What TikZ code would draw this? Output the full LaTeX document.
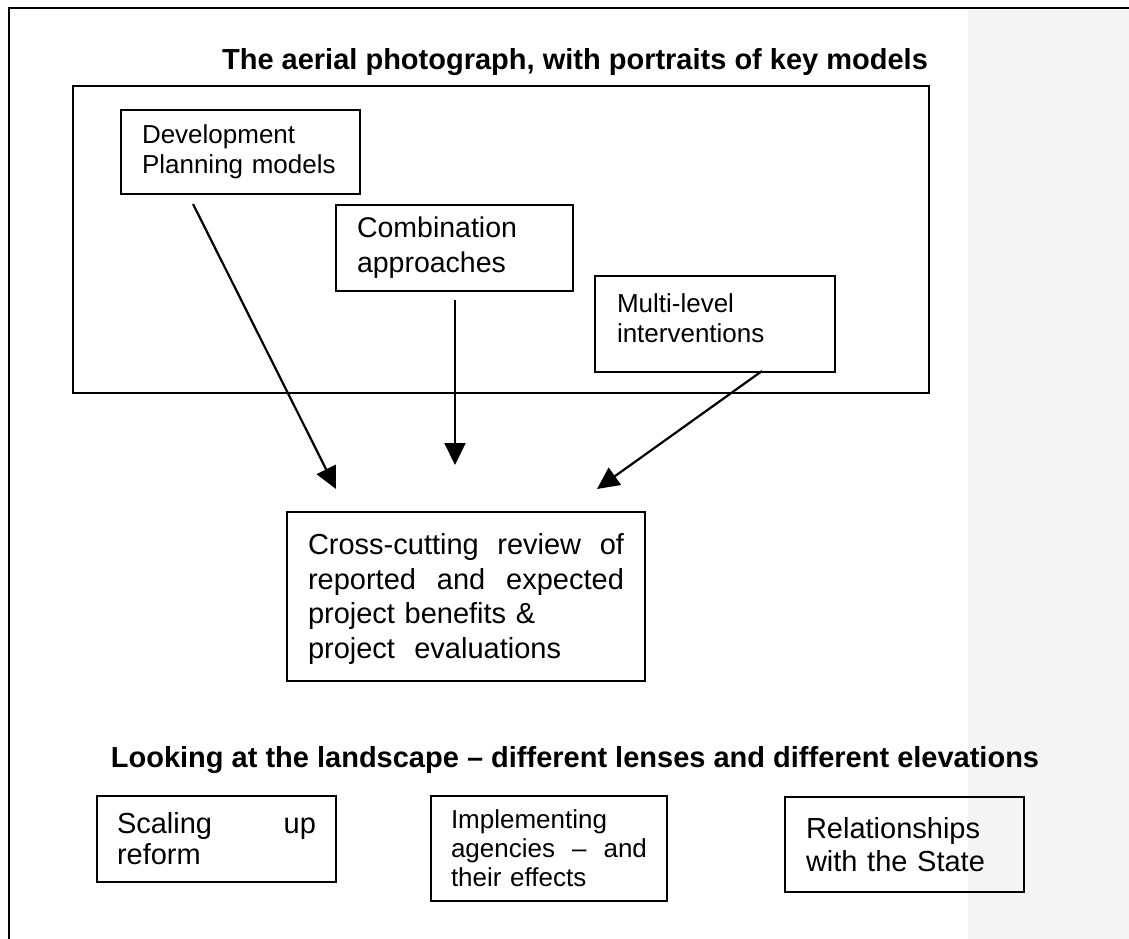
\documentclass[tikz,border=0pt]{standalone}
\usepackage{fontspec}
\setmainfont{Liberation Sans}
\usetikzlibrary{arrows.meta}
\definecolor{scangray}{gray}{0.955}
\newcommand{\spreadline}[2]{\leavevmode\hbox to #1{#2}}
\tikzset{
  boxline/.style={draw=black, line width=2pt},
  textbox/.style={boxline, rectangle, align=left, inner ysep=0pt},
  title/.style={font=\bfseries\fontsize{29}{34}\selectfont, anchor=base, inner sep=0pt},
  conn/.style={line width=2.2pt, -{Triangle[length=22pt,width=21pt]}},
}
\begin{document}
\begin{tikzpicture}[x=1pt,y=-1pt]
\useasboundingbox (0,0) rectangle (1129,939);
\fill[white] (0,0) rectangle (1129,939);
\fill[scangray] (968,10) rectangle (1129,939);
% outer page frame (partial)
\coordinate (ftl) at (9,8);
\coordinate (ftr) at (1129,8);
\coordinate (fbl) at (9,939);
\draw[line width=1.8pt] (ftr) -- (ftl) -- (fbl);

% titles
\node[title] (t1) at (575,70) {The aerial photograph, with portraits of key models};
\node[title] (t2) at (575,767) {Looking at the landscape -- different lenses and different elevations};

% big frame
\node[boxline, rectangle, minimum width=856pt, minimum height=307pt, inner sep=0pt] (frame) at (501,239.5) {};

% upper boxes
\node[textbox, inner xsep=21pt, text width=197pt, minimum height=84pt,
      font=\fontsize{26}{30}\selectfont] (dp) at (240.5,152)
  {Development\\Planning models};
\node[textbox, inner xsep=21pt, text width=195pt, minimum height=86pt,
      font=\fontsize{28.5}{35}\selectfont] (comb) at (454.5,248)
  {Combination\\approaches};
\node[textbox, draw=none, inner xsep=21pt, text width=196pt, minimum height=94pt,
      font=\fontsize{26}{30}\selectfont] (multi) at (715,318)
  {Multi-level\\interventions};
\draw[boxline] ([yshift=-6pt]multi.north west) rectangle ([yshift=-6pt]multi.south east);

% review box
\node[textbox, draw=none, inner xsep=20pt, text width=316pt, minimum height=167pt,
      font=\fontsize{29}{34.5}\selectfont] (cross) at (466,599)
  {\spreadline{316pt}{Cross-cutting\hfill review\hfill of}\\
   \spreadline{316pt}{reported\hfill and\hfill expected}\\
   project benefits \&\\
   project\ \ evaluations};
\draw[boxline] ([yshift=2.5pt]cross.north west) rectangle ([yshift=2.5pt]cross.south east);

% arrows
\coordinate (a1s) at (193,204);
\coordinate (a1e) at (336,489);
\coordinate (a2s) at (455,300);
\coordinate (a2e) at (455,465);
\coordinate (a3s) at (762,371);
\coordinate (a3e) at (597,489);
\draw[conn] (a1s) -- (a1e);
\draw[conn] (a2s) -- (a2e);
\draw[conn] (a3s) -- (a3e);

% bottom boxes
\node[textbox, inner xsep=20pt, text width=199pt, minimum height=86pt,
      font=\fontsize{29}{31}\selectfont] (scal) at (216.5,839)
  {\spreadline{199pt}{Scaling\hfill up}\\reform};
\node[textbox, inner xsep=20pt, text width=196pt, minimum height=105pt,
      font=\fontsize{26}{29}\selectfont] (impl) at (549,848.5)
  {Implementing\\\spreadline{196pt}{agencies\hfill --\hfill and}\\their effects};
\node[textbox, inner xsep=21pt, text width=197pt, minimum height=95pt,
      font=\fontsize{29}{33}\selectfont] (rel) at (904.5,844.5)
  {Relationships\\with the State};
\end{tikzpicture}
\end{document}
